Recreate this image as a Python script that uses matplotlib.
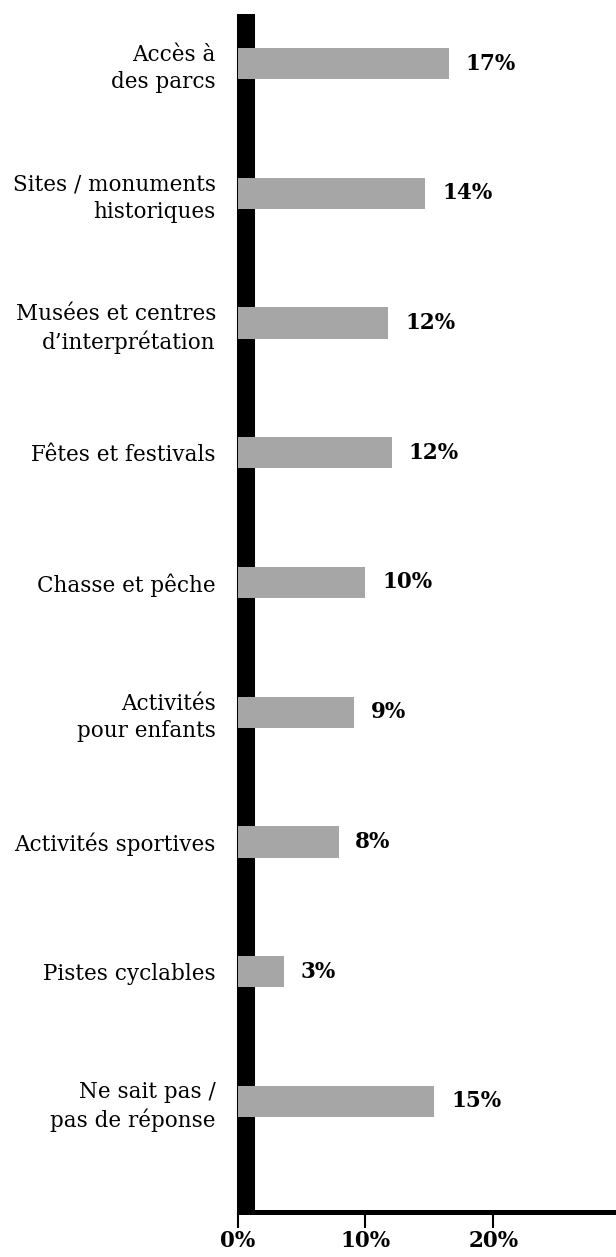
import matplotlib.pyplot as plt
import numpy as np

categories = [
    "Accès à\ndes parcs",
    "Sites / monuments\nhistoriques",
    "Musées et centres\nd\u2019interprétation",
    "Fêtes et festivals",
    "Chasse et pêche",
    "Activités\npour enfants",
    "Activités sportives",
    "Pistes cyclables",
    "Ne sait pas /\npas de réponse",
]
values = [16.5, 14.7, 11.8, 12.1, 10.0, 9.1, 7.9, 3.6, 15.4]
value_labels = ["17%", "14%", "12%", "12%", "10%", "9%", "8%", "3%", "15%"]
x_ticks = [0, 10, 20]
x_tick_labels = ["0%", "10%", "20%"]

plt.rcParams["font.family"] = "DejaVu Serif"

fig = plt.figure(figsize=(6.16, 12.57), dpi=100)
ax = fig.add_axes([0.3856, 0.0358, 0.6144, 0.953])

y = np.arange(len(categories))
ax.barh(y, values, height=0.24, color="#a6a6a6", zorder=3)

for yi, v, lab in zip(y, values, value_labels):
    ax.annotate(lab, (v, yi), xytext=(12, 0), textcoords="offset points",
                ha="left", va="center", fontsize=15.5, fontweight="bold")

ax.set_xlim(0, 29.6)
ax.set_ylim(8.852, -0.381)

# thick black left axis, drawn just right of zero
ax.spines["left"].set_position(("data", 0.7))
ax.spines["left"].set_linewidth(13)
ax.spines["left"].set_capstyle("butt")
ax.spines["left"].set_zorder(2)
ax.spines["bottom"].set_linewidth(3.6)
ax.spines["bottom"].set_capstyle("butt")
ax.spines["top"].set_visible(False)
ax.spines["right"].set_visible(False)

ax.set_yticks(y)
ax.set_yticklabels(categories, fontsize=15.5, linespacing=1.3)
ax.tick_params(axis="y", length=0, pad=22)

ax.set_xticks(x_ticks)
ax.set_xticklabels(x_tick_labels, fontsize=15.5, fontweight="bold")
ax.tick_params(axis="x", length=11.5, width=1.5, pad=1.5)

fig.savefig("out.png", dpi=100)
